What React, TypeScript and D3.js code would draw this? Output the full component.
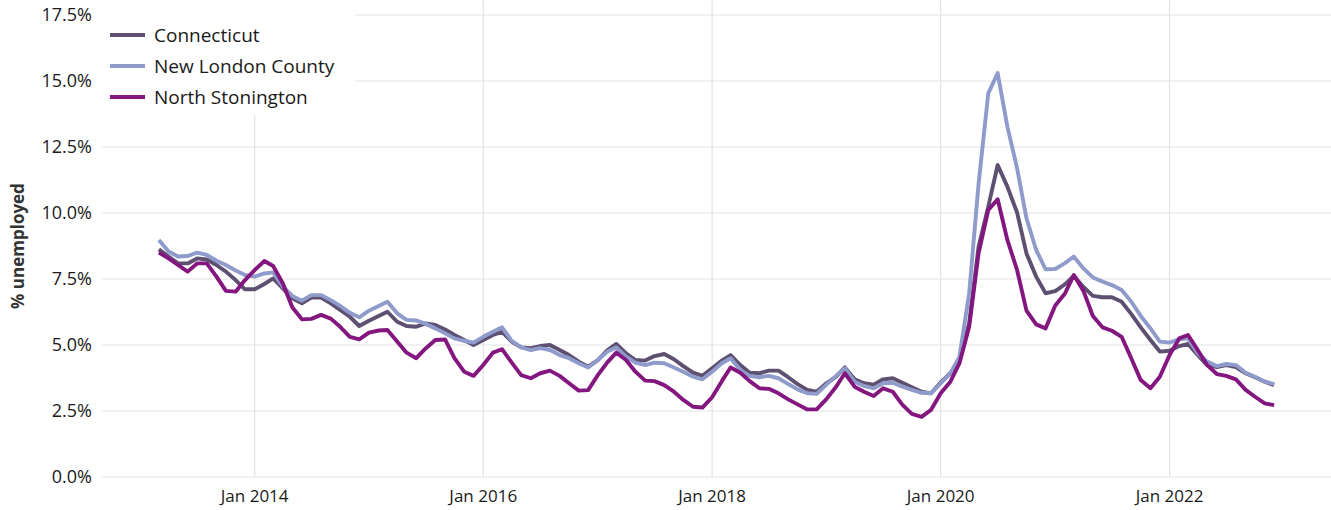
import React from 'react';
import * as d3 from 'd3';

// monthly series, Mar 2013 .. Dec 2022 (% unemployed)
const startMonth = new Date(2013, 2, 1);

const connecticut = [
  8.62, 8.35, 8.09, 8.09, 8.28, 8.24, 8.03, 7.78, 7.46, 7.11, 7.11, 7.31, 7.52, 7.14, 6.77, 6.58, 6.8, 6.8, 6.58, 6.33, 6.07, 5.72, 5.92, 6.1,
  6.26, 5.88, 5.72, 5.69, 5.82, 5.76, 5.59, 5.38, 5.19, 5.0, 5.19, 5.38, 5.5, 5.13, 4.91, 4.88, 4.96, 5.0, 4.81, 4.62, 4.37, 4.18, 4.43,
  4.81, 5.04, 4.68, 4.43, 4.41, 4.58, 4.66, 4.46, 4.2, 3.95, 3.83, 4.12, 4.41, 4.62, 4.24, 3.95, 3.93, 4.03, 4.03, 3.78, 3.52, 3.3, 3.23, 3.55,
  3.8, 4.15, 3.7, 3.55, 3.5, 3.7, 3.74, 3.57, 3.4, 3.23, 3.17, 3.58, 3.93, 4.43, 5.82, 8.72, 10.24, 11.82, 11.0, 10.02, 8.47, 7.59, 6.96,
  7.04, 7.3, 7.62, 7.2, 6.86, 6.81, 6.81, 6.64, 6.17, 5.67, 5.19, 4.75, 4.78, 4.96, 5.04, 4.62, 4.24, 4.16, 4.24, 4.16, 3.93, 3.78, 3.61, 3.48,
];

const newLondonCounty = [
  8.98, 8.54, 8.35, 8.37, 8.5, 8.41, 8.19, 8.03, 7.82, 7.65, 7.59, 7.71, 7.75, 7.21, 6.86, 6.68, 6.89, 6.89, 6.7, 6.48, 6.22, 6.05, 6.3, 6.48,
  6.64, 6.2, 5.95, 5.93, 5.8, 5.63, 5.44, 5.25, 5.16, 5.09, 5.31, 5.5, 5.67, 5.16, 4.91, 4.81, 4.88, 4.81, 4.62, 4.5, 4.31, 4.15, 4.43,
  4.75, 4.91, 4.56, 4.33, 4.24, 4.33, 4.31, 4.15, 3.99, 3.8, 3.7, 3.99, 4.31, 4.5, 4.05, 3.83, 3.78, 3.83, 3.74, 3.52, 3.32, 3.17, 3.15, 3.5,
  3.83, 4.12, 3.61, 3.45, 3.36, 3.55, 3.57, 3.42, 3.3, 3.19, 3.17, 3.55, 3.93, 4.55, 6.96, 11.1, 14.53, 15.3, 13.27, 11.7, 9.8, 8.6, 7.87,
  7.88, 8.1, 8.35, 7.9, 7.56, 7.4, 7.27, 7.08, 6.64, 6.1, 5.63, 5.13, 5.09, 5.22, 5.25, 4.69, 4.37, 4.2, 4.28, 4.24, 3.95, 3.8, 3.61, 3.52,
];

const northStonington = [
  8.5, 8.28, 8.03, 7.78, 8.09, 8.09, 7.59, 7.05, 7.02, 7.46, 7.84, 8.18, 7.99, 7.33, 6.43, 5.97, 5.99, 6.14, 6.0, 5.69, 5.31, 5.21, 5.47, 5.55,
  5.57, 5.13, 4.71, 4.5, 4.87, 5.19, 5.21, 4.5, 3.99, 3.83, 4.24, 4.71, 4.84, 4.33, 3.86, 3.74, 3.93, 4.03, 3.83, 3.55, 3.27, 3.29, 3.86,
  4.35, 4.71, 4.43, 3.99, 3.65, 3.63, 3.48, 3.23, 2.92, 2.66, 2.63, 3.02, 3.63, 4.15, 3.95, 3.63, 3.36, 3.34, 3.17, 2.94, 2.75, 2.56, 2.56, 2.95,
  3.42, 3.93, 3.42, 3.23, 3.07, 3.36, 3.23, 2.73, 2.39, 2.28, 2.54, 3.17, 3.61, 4.31, 5.69, 8.47, 10.11, 10.52, 8.98, 7.84, 6.3, 5.78, 5.63,
  6.5, 6.95, 7.65, 7.05, 6.1, 5.67, 5.54, 5.31, 4.49, 3.67, 3.36, 3.8, 4.62, 5.25, 5.38, 4.81, 4.24, 3.9, 3.83, 3.7, 3.3, 3.04, 2.79, 2.72,
];

const seriesNames = ['Connecticut', 'New London County', 'North Stonington'];
const seriesColors = ['#5e5070', '#8f9bcb', '#83177f'];
const yTicks = [0, 2.5, 5, 7.5, 10, 12.5, 15, 17.5];
const xTickYears = [2014, 2016, 2018, 2020, 2022];

const width = 1331;
const height = 510;
const margin = { top: 15, right: 0, bottom: 33, left: 102 };
const font = '"Open Sans", "Source Sans Pro", sans-serif';

const months = connecticut.map((_, i) => d3.timeMonth.offset(startMonth, i));

const App: React.FC = () => {
  const [d0, d1] = d3.extent(months) as [Date, Date];
  const pad = (d1.getTime() - d0.getTime()) * 0.051;
  const x = d3
    .scaleTime()
    .domain([new Date(d0.getTime() - pad), new Date(d1.getTime() + pad)])
    .range([margin.left, width - margin.right]);
  const y = d3
    .scaleLinear()
    .domain([0, 17.5])
    .range([height - margin.bottom, margin.top]);

  const line = d3
    .line<number>()
    .x((_, i) => x(months[i]))
    .y((d) => y(d));

  const all = [connecticut, newLondonCounty, northStonington];

  return (
    <svg width={width} height={height} style={{ display: 'block', position: 'absolute', left: 0, top: 0, background: '#fff' }}>
      {/* grid */}
      {yTicks.map((t) => (
        <line key={'gy' + t} x1={margin.left} x2={width} y1={y(t)} y2={y(t)} stroke="#e3e3e3" strokeWidth={1.2} />
      ))}
      {xTickYears.map((yr) => (
        <line key={'gx' + yr} x1={x(new Date(yr, 0, 1))} x2={x(new Date(yr, 0, 1))} y1={0} y2={y(0)} stroke="#e3e3e3" strokeWidth={1.2} />
      ))}

      {/* lines */}
      {all.map((s, k) => (
        <path key={seriesNames[k]} d={line(s) || ''} fill="none" stroke={seriesColors[k]} strokeWidth={3.9} strokeLinejoin="round" />
      ))}

      {/* y axis labels */}
      {yTicks.map((t) => (
        <text key={'ty' + t} x={92} y={y(t)} dy="0.36em" textAnchor="end" fontFamily={font} fontSize={18} fill="#1a1a1a">
          {t.toFixed(1)}%
        </text>
      ))}
      {xTickYears.map((yr) => (
        <text key={'tx' + yr} x={x(new Date(yr, 0, 1))} y={502} textAnchor="middle" fontFamily={font} fontSize={17} fill="#1a1a1a">
          Jan {yr}
        </text>
      ))}
      <text
        transform={`translate(24,${y(8.75)}) rotate(-90)`}
        textAnchor="middle"
        fontFamily={font}
        fontSize={17}
        fontWeight="bold"
        fill="#333"
      >
        % unemployed
      </text>

      {/* legend */}
      <rect x={102} y={0} width={253} height={115} fill="#fff" />
      {seriesNames.map((n, k) => (
        <g key={'lg' + n} transform={`translate(110,${35 + k * 31})`}>
          <line x1={0} x2={35} y1={0} y2={0} stroke={seriesColors[k]} strokeWidth={4} />
          <text x={44} y={0} dy="0.36em" fontFamily={font} fontSize={19} fill="#1a1a1a">
            {n}
          </text>
        </g>
      ))}
    </svg>
  );
};

export default App;
